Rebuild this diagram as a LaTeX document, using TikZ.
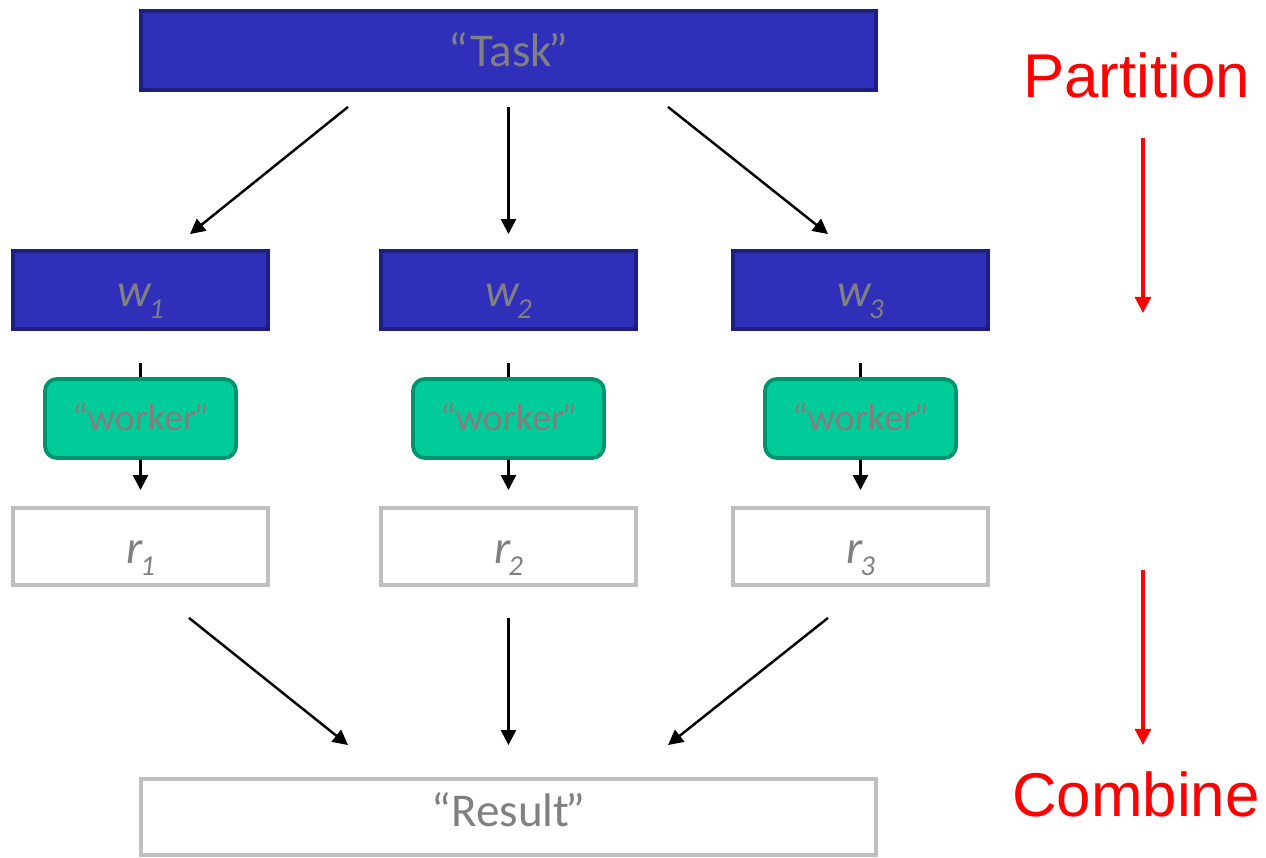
\documentclass[tikz,border=0pt]{standalone}
\usepackage{fontspec}
\setmainfont{Carlito}
\newfontfamily\arialfont{Liberation Sans}
\usetikzlibrary{arrows.meta}
\definecolor{taskBlue}{HTML}{2F2FB9}
\definecolor{taskEdge}{HTML}{1F1F80}
\definecolor{workGreen}{HTML}{00CC99}
\definecolor{workEdge}{HTML}{00936B}
\definecolor{txtGray}{HTML}{808080}
\definecolor{boxGray}{HTML}{BFBFBF}
\newcommand{\sbs}[1]{\hspace{-0.02cm}\raisebox{-0.12cm}{\fontsize{8.2}{9}\selectfont #1}}
\newcommand{\cq}{\kern-0.08em”}

\begin{document}
\begin{tikzpicture}[
  font=\fontsize{13.4}{16}\selectfont,
  blk/.style={draw=taskEdge, fill=taskBlue, line width=1.1pt, inner sep=0pt, text=txtGray},
  resbox/.style={draw=boxGray, fill=white, line width=1.1pt, inner sep=0pt, text=txtGray},
  partbox/.style={blk, minimum width=2.55cm, minimum height=0.78cm, text height=0.34cm, text depth=0pt},
  rbox/.style={resbox, minimum width=2.55cm, minimum height=0.77cm, text height=0.34cm, text depth=0pt},
  wrk/.style={draw=workEdge, fill=workGreen, line width=1.1pt, rounded corners=0.12cm, inner sep=0pt,
    text=txtGray, minimum width=1.91cm, minimum height=0.79cm,
    font=\fontsize{10.8}{12}\selectfont, text height=0.24cm, text depth=0pt},
  arr/.style={-{Triangle[length=0.15cm, width=0.15cm]}, line width=0.7pt},
  phasearr/.style={-{Triangle[length=0.16cm, width=0.16cm]}, line width=0.95pt, red},
  phaselab/.style={font=\arialfont\fontsize{17.6}{20}\selectfont, text=red, anchor=base, inner sep=0pt}
]
\useasboundingbox (0,0) rectangle (12.66,-8.58);
% task and result
\node[blk, minimum width=7.35cm, minimum height=0.79cm, text height=0.33cm, text depth=0pt] (task) at (5.085,-0.505) {“Task\cq};
\node[resbox, minimum width=7.35cm, minimum height=0.76cm, text height=0.2cm, text depth=0pt] (result) at (5.085,-8.17) {“Result\cq};
% one column per worker
\foreach \i/\x in {1/1.405, 2/5.085, 3/8.605}{
  \node[partbox] (w\i) at (\x,-2.90) {\itshape w\sbs{\i}};
  \node[wrk] (k\i) at (\x,-4.185) {“worker\cq};
  \node[rbox] (r\i) at (\x,-5.465) {\itshape r\sbs{\i}};
  \draw[line width=0.7pt] ([yshift=-0.32cm]w\i.south) -- (k\i.north);
  \draw[arr, shorten >=0.16cm] (k\i.south) -- (r\i.north);
}
% partition
\draw[arr] ([shift={(-1.605,-0.15)}]task.south) -- ([shift={(0.495,0.15)}]w1.north);
\draw[arr, shorten <=0.15cm, shorten >=0.15cm] (task.south) -- (w2.north);
\draw[arr] ([shift={(1.595,-0.15)}]task.south) -- ([shift={(-0.325,0.15)}]w3.north);
% combine
\draw[arr] ([shift={(0.485,-0.31)}]r1.south) -- ([shift={(-1.605,0.32)}]result.north);
\draw[arr, shorten <=0.31cm, shorten >=0.32cm] (r2.south) -- (result.north);
\draw[arr] ([shift={(-0.325,-0.31)}]r3.south) -- ([shift={(1.595,0.32)}]result.north);
% phase labels
\node[phaselab] (partlab) at (11.365,-0.98) {Partition};
\node[phaselab] (comblab) at (11.36,-8.17) {Combine};
\coordinate (pTop) at (11.43,-1.38);
\coordinate (pBot) at (11.43,-3.13);
\coordinate (cTop) at (11.43,-5.70);
\coordinate (cBot) at (11.43,-7.45);
\draw[phasearr] (pTop) -- (pBot);
\draw[phasearr] (cTop) -- (cBot);
\end{tikzpicture}
\end{document}
